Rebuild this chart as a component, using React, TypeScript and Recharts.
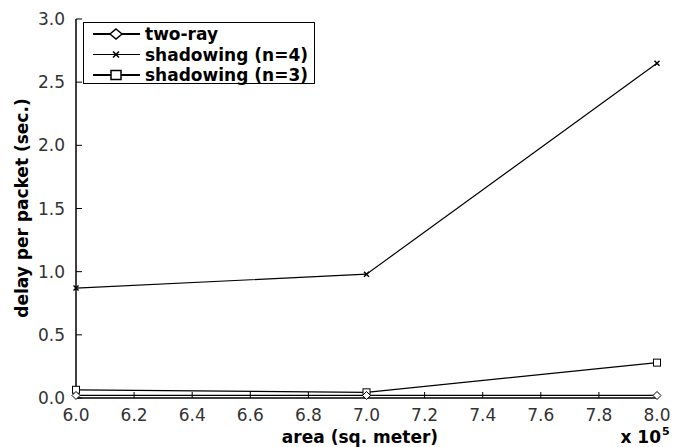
import React from 'react';
import { LineChart, Line, XAxis, YAxis, Label } from 'recharts';

const areas = [6.0, 7.0, 8.0];
const twoRay = [0.02, 0.02, 0.02];
const shadowing4 = [0.87, 0.98, 2.65];
const shadowing3 = [0.065, 0.045, 0.28];
const xTicks = [6.0, 6.2, 6.4, 6.6, 6.8, 7.0, 7.2, 7.4, 7.6, 7.8, 8.0];
const yTicks = [0, 0.5, 1.0, 1.5, 2.0, 2.5, 3.0];
const seriesNames = ['two-ray', 'shadowing (n=4)', 'shadowing (n=3)'];
const xLabel = 'area (sq. meter)';
const yLabel = 'delay per packet (sec.)';

const data = areas.map((a, i) => ({ area: a, twoRay: twoRay[i], s4: shadowing4[i], s3: shadowing3[i] }));

const FONT = '"DejaVu Sans", sans-serif';

const Diamond = (props: any) => {
  const { cx, cy, index } = props;
  if (cx == null || cy == null) return null;
  const r = 4;
  return (
    <path key={`d${index}`} d={`M${cx},${cy - r} L${cx + r},${cy} L${cx},${cy + r} L${cx - r},${cy} Z`} fill="#fff" stroke="#000" strokeWidth={1} />
  );
};
const Cross = (props: any) => {
  const { cx, cy, index } = props;
  if (cx == null || cy == null) return null;
  const r = 2.5;
  return (
    <path key={`c${index}`} d={`M${cx - r},${cy - r} L${cx + r},${cy + r} M${cx - r},${cy + r} L${cx + r},${cy - r}`} stroke="#000" strokeWidth={1.5} />
  );
};
const Square = (props: any) => {
  const { cx, cy, index } = props;
  if (cx == null || cy == null) return null;
  const r = 3.5;
  return <rect key={`s${index}`} x={cx - r} y={cy - r} width={2 * r} height={2 * r} fill="#fff" stroke="#000" strokeWidth={1} />;
};

const fmt = (v: number) => v.toFixed(1);
const tickStyle = { fontFamily: FONT, fontSize: 17, fill: '#333' };
const axisLine = { stroke: '#000', strokeWidth: 1.5 };

export default function App() {
  return (
    <div style={{ position: 'absolute', left: 0, top: 0, width: 673, height: 447, background: '#fff' }}>
      <LineChart width={673} height={447} data={data} margin={{ top: 19, right: 16, bottom: 0, left: 36 }}>
        <XAxis
          dataKey="area"
          type="number"
          domain={[6, 8]}
          ticks={xTicks}
          interval={0}
          tickFormatter={fmt}
          height={49}
          tickSize={-6}
          tickMargin={17}
          tick={tickStyle}
          axisLine={axisLine}
          tickLine={{ stroke: '#000' }}
        >
          <Label
            content={(p: any) => {
              const vb = p.viewBox;
              return (
                <g>
                  <text x={360} y={vb.y + vb.height - 4} textAnchor="middle" fontFamily={FONT} fontWeight="bold" fontSize={17} fill="#000">
                    {xLabel}
                  </text>
                  <text x={661} y={vb.y + vb.height - 4} textAnchor="end" fontFamily={FONT} fontWeight="bold" fontSize={17} fill="#000">
                    x 10
                  </text>
                  <text x={662} y={vb.y + vb.height - 12} textAnchor="start" fontFamily={FONT} fontWeight="bold" fontSize={11} fill="#000">
                    5
                  </text>
                </g>
              );
            }}
          />
        </XAxis>
        <XAxis
          xAxisId="top"
          orientation="top"
          dataKey="area"
          type="number"
          domain={[6, 8]}
          ticks={xTicks}
          interval={0}
          height={0}
          tickSize={-6}
          tickFormatter={() => ''}
          axisLine={axisLine}
          tickLine={{ stroke: '#000' }}
        />
        <YAxis
          type="number"
          domain={[0, 3]}
          ticks={yTicks}
          interval={0}
          tickFormatter={fmt}
          width={40}
          tickSize={-6}
          tickMargin={17}
          tick={tickStyle}
          axisLine={axisLine}
          tickLine={{ stroke: '#000' }}
        >
          <Label
            content={() => (
              <text
                x={22}
                y={208}
                transform="rotate(-90, 22, 208)"
                textAnchor="middle"
                dominantBaseline="central"
                fontFamily={FONT}
                fontWeight="bold"
                fontSize={17}
                fill="#000"
              >
                {yLabel}
              </text>
            )}
          />
        </YAxis>
        <YAxis
          yAxisId="right"
          orientation="right"
          type="number"
          domain={[0, 3]}
          ticks={yTicks}
          interval={0}
          width={0}
          tickSize={-6}
          tickFormatter={() => ''}
          axisLine={axisLine}
          tickLine={{ stroke: '#000' }}
        />
        <Line dataKey="s4" stroke="#000" strokeWidth={1.2} dot={Cross} activeDot={false} isAnimationActive={false} />
        <Line dataKey="s3" stroke="#000" strokeWidth={1.2} dot={Square} activeDot={false} isAnimationActive={false} />
        <Line dataKey="twoRay" stroke="#000" strokeWidth={1.2} dot={Diamond} activeDot={false} isAnimationActive={false} />
      </LineChart>
      <div
        style={{
          position: 'absolute',
          left: 83,
          top: 22,
          width: 232,
          height: 62,
          border: '1.5px solid #000',
          background: '#fff',
          boxSizing: 'border-box',
        }}
      >
        <svg width={229} height={59} style={{ position: 'absolute', left: 0, top: 0, overflow: 'visible' }}>
          {seriesNames.map((name, i) => {
            const y = 11 + i * 20.5;
            const sw = i === 1 ? 1.2 : 2.2;
            return (
              <g key={name}>
                <line x1={9} y1={y} x2={56} y2={y} stroke="#000" strokeWidth={sw} />
                {i === 0 && <path d={`M32,${y - 5} L38,${y} L32,${y + 5} L26,${y} Z`} fill="#fff" stroke="#000" strokeWidth={1.5} />}
                {i === 1 && <path d={`M29,${y - 3} L35,${y + 3} M29,${y + 3} L35,${y - 3}`} stroke="#000" strokeWidth={1.5} />}
                {i === 2 && <rect x={27} y={y - 4.5} width={10} height={9} fill="#fff" stroke="#000" strokeWidth={1.5} />}
                <text x={61} y={y + 6} fontFamily={FONT} fontWeight="bold" fontSize={17} fill="#000">
                  {name}
                </text>
              </g>
            );
          })}
        </svg>
      </div>
    </div>
  );
}
